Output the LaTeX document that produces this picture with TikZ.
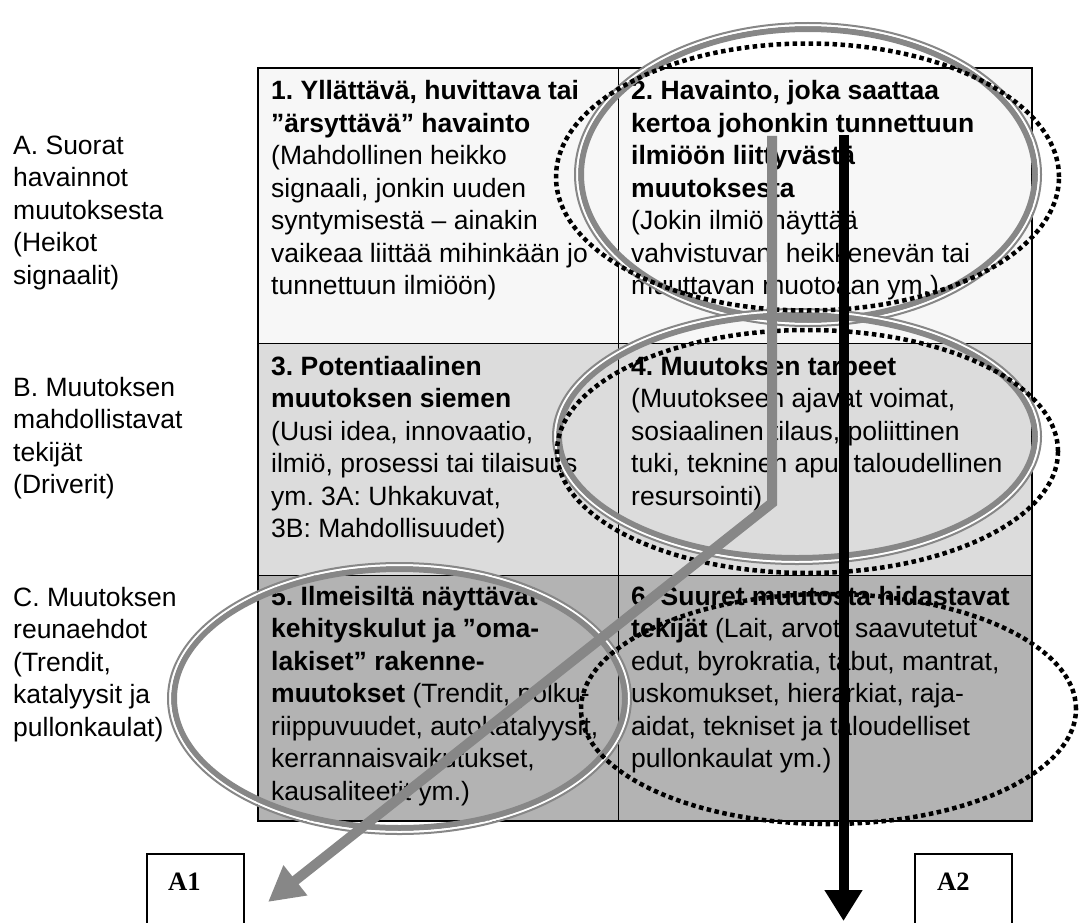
\documentclass[tikz,border=0pt]{standalone}
\usepackage{fontspec}
\newfontfamily\arialfont{Liberation Sans}
\newfontfamily\timesfont{Liberation Serif}
\usetikzlibrary{arrows.meta}
\frenchspacing
\definecolor{rowone}{HTML}{F7F7F7}
\definecolor{rowtwo}{HTML}{DCDCDC}
\definecolor{rowthree}{HTML}{B3B3B3}
\definecolor{ringgray}{HTML}{878787}
\definecolor{arrowgray}{HTML}{878787}
\newcommand\grayring[4]{%
  \draw[ringgray, line width=6pt] (#1,#2) ellipse [x radius=#3pt-7pt, y radius=#4pt-7pt];
  \draw[white, line width=2pt] (#1,#2) ellipse [x radius=#3pt-3pt, y radius=#4pt-3pt];
  \draw[ringgray, line width=2pt] (#1,#2) ellipse [x radius=#3pt-1pt, y radius=#4pt-1pt];
}
\newcommand\dotring[4]{%
  \draw[dotline] (#1,#2) ellipse [x radius=#3pt, y radius=#4pt];
}
\tikzset{
  celltext/.style={anchor=base west, inner sep=0pt, font=\arialfont\fontsize{26.5}{32.5}\selectfont},
  boxlabel/.style={anchor=base west, inner sep=0pt, font=\timesfont\bfseries\fontsize{26.5}{30}\selectfont},
  dotline/.style={draw=black, line width=4.5pt, dash pattern=on 4.5pt off 3.5pt},
  thingrid/.style={draw=black, line width=1pt},
  outergrid/.style={draw=black, line width=2.8pt},
  boxline/.style={draw=black, line width=1.5pt},
  grayarrow/.style={draw=arrowgray, line width=10pt, -{Triangle[length=35pt,width=36pt]}},
  blackarrow/.style={draw=black, line width=10pt, -{Triangle[length=31pt,width=36pt]}}
}
\begin{document}
\begin{tikzpicture}[x=1pt,y=-1pt]
\useasboundingbox (0,0) rectangle (1081,923);
% row fills
\fill[rowone] (258,68) rectangle (1032,343);
\fill[rowtwo] (258,343) rectangle (1032,575);
\fill[rowthree] (258,575) rectangle (1032,821);
\draw[thingrid] (618,68) -- (618,821);
\draw[thingrid] (258,343) -- (1032,343);
\draw[thingrid] (258,575) -- (1032,575);
\draw[outergrid] (258,68) rectangle (1032,821);
% left labels
\node[celltext] (labA) at (13,154) {\parbox[t]{240pt}{\raggedright A. Suorat\\havainnot\\muutoksesta\\(Heikot\\signaalit)}};
\node[celltext] (labB) at (13,396) {\parbox[t]{240pt}{\raggedright B. Muutoksen\\mahdollistavat\\tekijät\\(Driverit)}};
\node[celltext] (labC) at (13,606) {\parbox[t]{240pt}{\raggedright C. Muutoksen\\reunaehdot\\(Trendit,\\katalyysit ja\\pullonkaulat)}};
% cells
\node[celltext] (cell1) at (271,100) {\parbox[t]{400pt}{\raggedright \textbf{1. Yllättävä, huvittava tai}\\\textbf{”ärsyttävä” havainto}\\(Mahdollinen heikko\\signaali, jonkin uuden\\syntymisestä – ainakin\\vaikeaa liittää mihinkään jo\\tunnettuun ilmiöön)}};
\node[celltext] (cell2) at (631,100) {\parbox[t]{420pt}{\raggedright \textbf{2. Havainto, joka saattaa}\\\textbf{kertoa johonkin tunnettuun}\\\textbf{ilmiöön liittyvästä}\\\textbf{muutoksesta}\\(Jokin ilmiö näyttää\\vahvistuvan, heikkenevän tai\\muuttavan muotoaan ym.)}};
\node[celltext] (cell3) at (271,375) {\parbox[t]{400pt}{\raggedright \textbf{3. Potentiaalinen}\\\textbf{muutoksen siemen}\\(Uusi idea, innovaatio,\\ilmiö, prosessi tai tilaisuus\\ym. 3A: Uhkakuvat,\\3B: Mahdollisuudet)}};
\node[celltext] (cell4) at (631,375) {\parbox[t]{420pt}{\raggedright \textbf{4. Muutoksen tarpeet}\\(Muutokseen ajavat voimat,\\sosiaalinen tilaus, poliittinen\\tuki, tekninen apu, taloudellinen\\resursointi)}};
\node[celltext] (cell5) at (271,605) {\parbox[t]{400pt}{\raggedright \textbf{5. Ilmeisiltä näyttävät}\\\textbf{kehityskulut ja ”oma-}\\\textbf{lakiset” rakenne-}\\\textbf{muutokset} (Trendit, polku-\\riippuvuudet, autokatalyysit,\\kerrannaisvaikutukset,\\kausaliteetit ym.)}};
\node[celltext] (cell6) at (631,605) {\parbox[t]{420pt}{\raggedright \textbf{6. Suuret muutosta hidastavat}\\\textbf{tekijät} (Lait, arvot, saavutetut\\edut, byrokratia, tabut, mantrat,\\uskomukset, hierarkiat, raja-\\aidat, tekniset ja taloudelliset\\pullonkaulat ym.)}};
% rings
\grayring{808}{174.5}{234}{152.5}
\grayring{797}{436.5}{245}{128.5}
\grayring{399.5}{698.5}{232.5}{136.5}
\dotring{807.5}{177}{251.5}{133.5}
\dotring{807.5}{451.5}{250.5}{121.5}
\dotring{828.5}{709}{247.5}{115}
% boxes A1, A2
\node[boxlabel] (A1) at (168,890) {A1};
\node[boxlabel] (A2) at (937,890) {A2};
\draw[boxline] (147,924) -- (147,854) -- (244,854) -- (244,924);
\draw[boxline] (915,924) -- (915,854) -- (1012,854) -- (1012,924);
% arrows
\coordinate (gstart) at (772,136);
\coordinate (gbend) at (772,503);
\coordinate (gend) at (268,902);
\coordinate (bstart) at (843.5,135);
\coordinate (bend) at (843.5,921);
\draw[grayarrow] (gstart) -- (gbend) -- (gend);
\draw[blackarrow] (bstart) -- (bend);
\end{tikzpicture}
\end{document}
